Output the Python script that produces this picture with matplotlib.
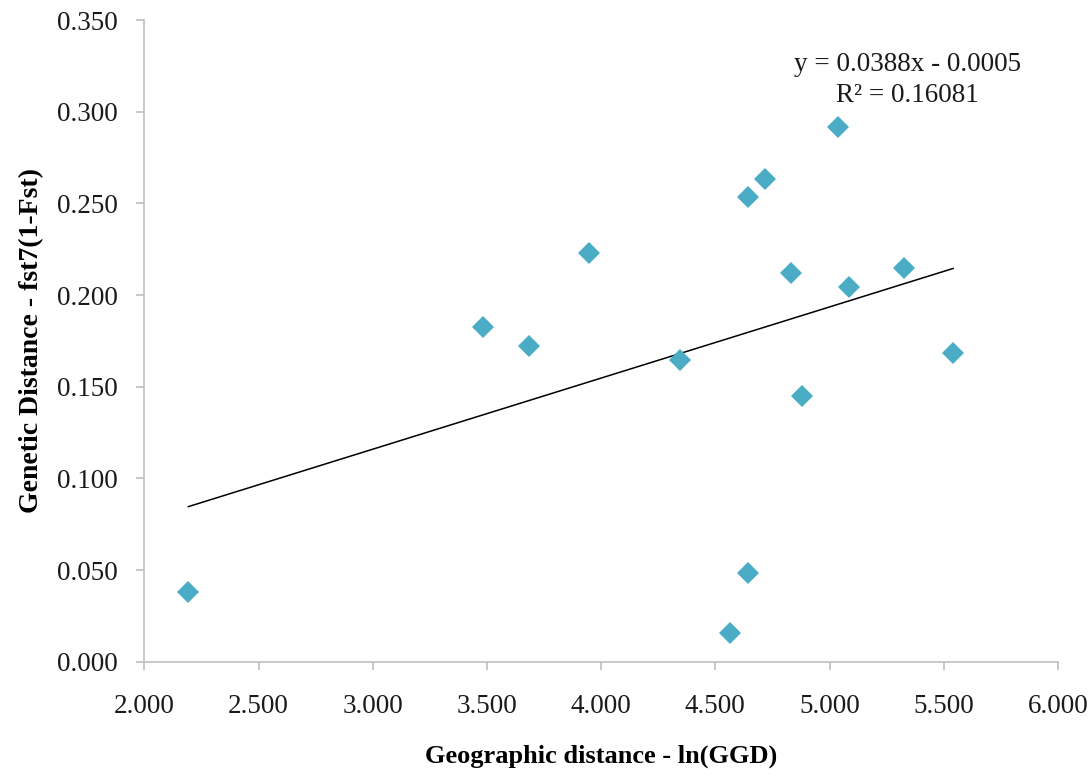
import numpy as np
import matplotlib
matplotlib.use('Agg')
import matplotlib.pyplot as plt

# data
geo_dist = [2.193, 3.484, 3.684, 3.948, 4.347, 4.563, 4.643, 4.643, 4.716,
            4.830, 4.880, 5.035, 5.084, 5.326, 5.541]
gen_dist = [0.0382, 0.1827, 0.1724, 0.2228, 0.1646, 0.0158, 0.0482, 0.2536, 0.2633,
            0.2118, 0.1449, 0.2915, 0.2042, 0.2149, 0.1682]
slope = 0.0388
intercept = -0.0005
r2 = 0.16081

x_ticks = [2.0, 2.5, 3.0, 3.5, 4.0, 4.5, 5.0, 5.5, 6.0]
y_ticks = [0.0, 0.05, 0.10, 0.15, 0.20, 0.25, 0.30, 0.35]

plt.rcParams['font.family'] = ['Liberation Serif', 'DejaVu Serif']

fig = plt.figure(figsize=(10.9, 7.76), dpi=100)
ax = fig.add_axes([0.1324, 0.1473, 0.8382, 0.8269])

ax.plot(geo_dist, gen_dist, linestyle='none', marker='D', markersize=11.5,
        color='#4BACC6', markeredgewidth=0, zorder=3)

# linear trendline over data range
line_x = np.array([min(geo_dist), max(geo_dist)])
ax.plot(line_x, slope * line_x + intercept, color='black', linewidth=1.1, zorder=2)

ax.text(0.8356, 0.931, f"y = {slope}x - {abs(intercept):.4f}", transform=ax.transAxes,
        ha='center', va='center', fontsize=19.5, color='#1a1a1a')
ax.text(0.8356, 0.883, f"R\u00b2 = {r2}", transform=ax.transAxes,
        ha='center', va='center', fontsize=19.5, color='#1a1a1a')

ax.set_xlim(2.0, 6.0)
ax.set_ylim(0.0, 0.35)
ax.set_xticks(x_ticks)
ax.set_yticks(y_ticks)
ax.set_xticklabels([f"{t:.3f}" for t in x_ticks])
ax.set_yticklabels([f"{t:.3f}" for t in y_ticks])

for side in ['top', 'right']:
    ax.spines[side].set_visible(False)
for side in ['left', 'bottom']:
    ax.spines[side].set_color('#bfbfbf')
    ax.spines[side].set_linewidth(1.2)

ax.tick_params(axis='both', direction='out', length=6, width=1.2, color='#bfbfbf',
               labelsize=19.5, labelcolor='#1a1a1a')
ax.tick_params(axis='x', pad=17)
ax.tick_params(axis='y', pad=13)

ax.set_xlabel('Geographic distance - ln(GGD)', fontsize=19, fontweight='bold', labelpad=19)
ax.set_ylabel('Genetic Distance - fst7(1-Fst)', fontsize=20, fontweight='bold', labelpad=9)

fig.savefig('out.png', dpi=100)
